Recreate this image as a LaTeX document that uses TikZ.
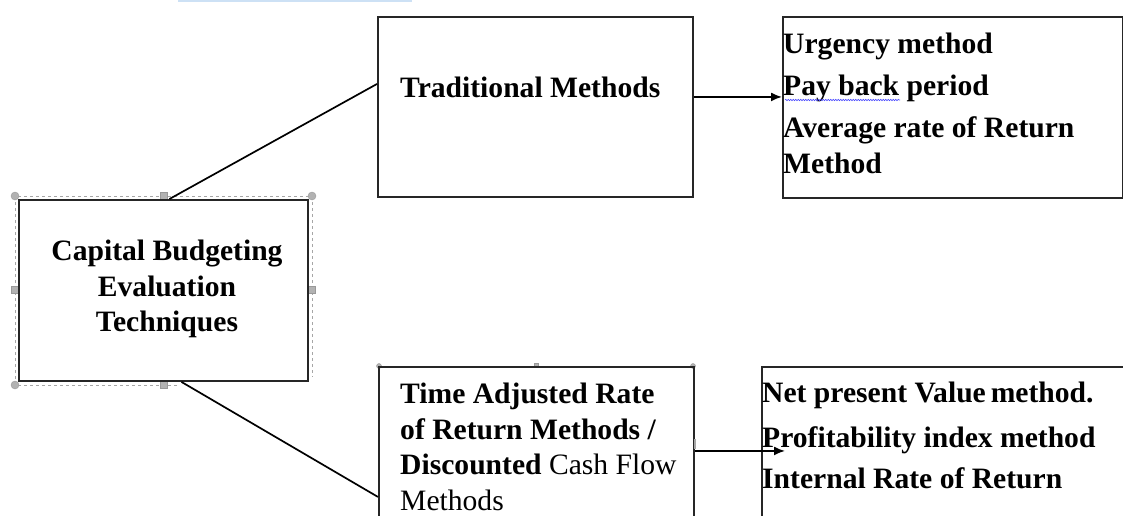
\documentclass[tikz,border=0pt]{standalone}
\usepackage{fontspec}
\setmainfont{Liberation Serif}
\usetikzlibrary{arrows.meta,calc,decorations.pathmorphing}
\definecolor{bandblue}{RGB}{205,225,245}
\tikzset{
  box/.style={draw=black!85,line width=1.9pt,inner sep=0pt,anchor=north west},
  words/.style={inner sep=0pt,font=\fontsize{29.6}{35.5}\selectfont\bfseries,align=left},
  link/.style={line width=1.7pt},
  arr/.style={line width=1.7pt,-{Latex[length=11pt,width=9pt]}},
  sel/.style={gray!70,dashed,line width=0.7pt},
  grip/.style={circle,fill=gray!60,draw=gray!80,minimum size=8pt,inner sep=0pt},
  knob/.style={fill=gray!60,draw=gray!80,minimum size=7pt,inner sep=0pt}
}
\begin{document}
\begin{tikzpicture}[x=1pt,y=-1pt]
\useasboundingbox (0,0) rectangle (1123,516);
\clip (0,0) rectangle (1123,516);
% faint band along the top
\fill[bandblue] (178,0) rectangle (412,2);
% selection frame round the first box
\draw[sel] (177,385) -- (15,385) -- (15,196) -- (312,196) -- (312,377);
\foreach \x/\y [count=\i] in {15/196,312/196,15/385}
  \node[grip] (gc\i) at (\x,\y) {};
\foreach \x/\y [count=\i] in {164/196,15/290,312/290,164/385}
  \node[knob] (gs\i) at (\x,\y) {};
\node[grip,minimum size=5pt] (gd1) at (379,366) {};
\node[grip,minimum size=5pt] (gd2) at (693,366) {};
\node[knob,minimum size=4pt] (gd3) at (536,365) {};
% boxes
\node[box,fill=white,minimum width=289pt,minimum height=181pt] (cbet) at (18,199) {};
\node[box,minimum width=315pt,minimum height=180pt] (trad) at (377,16) {};
\node[box,minimum width=340pt,minimum height=181pt] (tradlist) at (782,16) {};
\node[box,minimum width=315pt,minimum height=180pt] (dcf) at (378,366) {};
\node[box,minimum width=400pt,minimum height=180pt] (dcflist) at (761,366) {};
\draw[gray!70,line width=1.5pt] (695,439) -- (695,449);
% texts
\node[words,align=center,anchor=north] (cbettxt) at (167,240)
  {Capital Budgeting\\Evaluation\\Techniques};
\node[words,anchor=north west] (tradtxt) at (400,77) {Traditional Methods};
\node[words,anchor=north west] (tradlisttxt) at (783,33)
  {Urgency method\\[6pt]Pay back period\\[7pt]Average rate of Return\\Method};
\node[words,anchor=north west] (dcftxt) at (400,383)
  {Time Adjusted Rate\\of Return Methods /\\Discounted {\mdseries Cash Flow}\\{\mdseries Methods}};
\node[words,anchor=north west] (dcflisttxt) at (762,382)
  {Net present Value\,method.\\[9pt]Profitability index method\\[6pt]Internal Rate of Return};
\draw[blue!70,line width=0.6pt,decorate,decoration={snake,amplitude=0.7pt,segment length=2.5pt}]
  (785,100) -- (900,100);
% connectors
\draw[link] ([xshift=6pt]cbet.north) -- ([yshift=23pt]trad.west);
\draw[link] ([xshift=18pt]cbet.south) -- ([yshift=-40pt]dcf.west);
\coordinate (a1) at ([yshift=10pt]trad.east);
\coordinate (a2) at ([yshift=6pt]dcf.east);
\draw[arr] (a1) -- (a1 -| tradlist.west);
\draw[arr] (a2) -- ($(a2 -| dcflist.west)+(24,0)$);
\end{tikzpicture}
\end{document}
